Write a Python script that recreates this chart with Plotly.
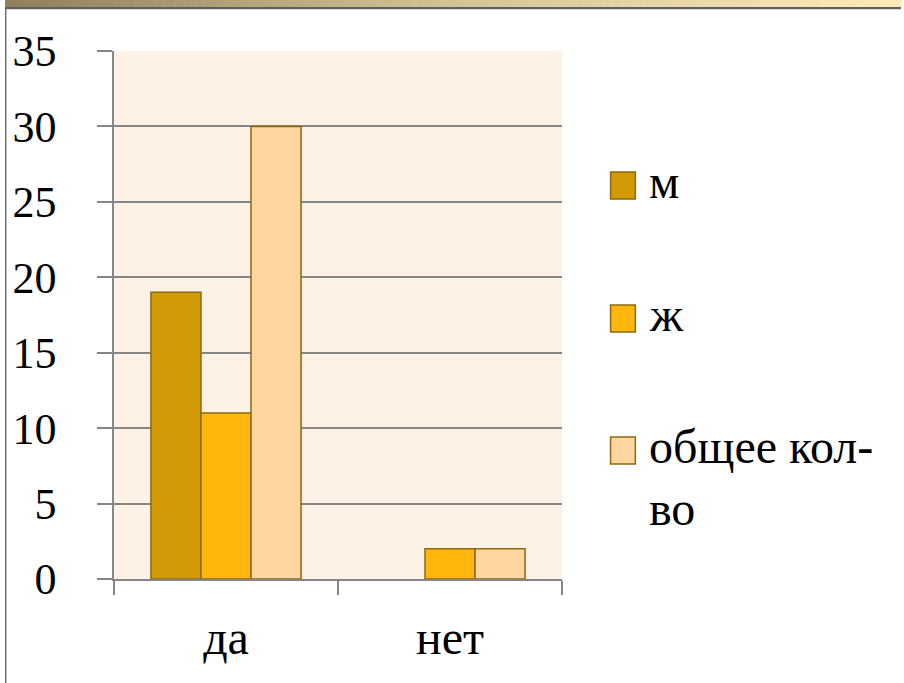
import plotly.graph_objects as go

categories = ["да", "нет"]
series_names = ["м", "ж", "общее кол-во"]
values_m = [19, 0]
values_zh = [11, 2]
values_total = [30, 2]
y_ticks = [0, 5, 10, 15, 20, 25, 30, 35]

colors = ["#D19A06", "#FFB60D", "#FFD5A0"]
edge = "#8B6A10"
FONT = "'Liberation Serif', 'DejaVu Serif', serif"

W, H = 904, 683
L, R, T, B = 110, 342, 51, 104
PW, PH = W - L - R, H - T - B

def px(x):
    return (x - L) / PW

def py(y):
    return (H - B - y) / PH

fig = go.Figure()
for name, vals, col in zip(series_names, [values_m, values_zh, values_total], colors):
    fig.add_trace(go.Bar(
        x=categories, y=vals, name=name,
        marker=dict(color=col, line=dict(color=edge, width=[1.5 if v else 0 for v in vals])),
        showlegend=False,
    ))

shapes = []
# top gradient strip
stops = [(0.0, (143, 127, 92)), (0.5, (212, 196, 148)), (1.0, (255, 233, 185))]
N = 90
for i in range(N):
    t = (i + 0.5) / N
    for (a, ca), (b, cb) in zip(stops[:-1], stops[1:]):
        if a <= t <= b:
            f = (t - a) / (b - a)
            c = tuple(int(round(ca[k] + (cb[k] - ca[k]) * f)) for k in range(3))
            break
    shapes.append(dict(type="rect", xref="paper", yref="paper",
                       x0=px(W * i / N), x1=px(W * (i + 1) / N + 0.5),
                       y0=py(7), y1=py(0), line=dict(width=0),
                       fillcolor="rgb(%d,%d,%d)" % c, layer="above"))
shapes.append(dict(type="rect", xref="paper", yref="paper", x0=px(0), x1=px(W),
                   y0=py(9), y1=py(7), line=dict(width=0), fillcolor="#5F5F5F"))
shapes.append(dict(type="rect", xref="paper", yref="paper", x0=px(0), x1=px(W),
                   y0=py(10), y1=py(9), line=dict(width=0), fillcolor="#DADDE3"))
shapes.append(dict(type="rect", xref="paper", yref="paper", x0=px(0), x1=px(1.5),
                   y0=py(H), y1=py(9), line=dict(width=0), fillcolor="#6F6F6F"))

# manual legend
legend_rows = [(172, 199), (305, 332), (437, 464)]
legend_texts = ["м", "ж", "общее кол-<br>во"]
annotations = []
for (y0, y1), col, txt in zip(legend_rows, colors, legend_texts):
    shapes.append(dict(type="rect", xref="paper", yref="paper",
                       x0=px(611), x1=px(636), y0=py(y1), y1=py(y0),
                       fillcolor=col, line=dict(color=edge, width=1.5)))
    annotations.append(dict(xref="paper", yref="paper", x=px(648), y=py(y0 - 19),
                            xanchor="left", yanchor="top", text=txt, showarrow=False,
                            align="left",
                            font=dict(family=FONT, size=48, color="#000000")))

fig.update_layout(
    width=W, height=H, autosize=False,
    margin=dict(l=L, r=R, t=T, b=B, pad=0),
    paper_bgcolor="#FFFFFF", plot_bgcolor="#FEF1E6",
    barmode="group", bargap=0.33, bargroupgap=0,
    font=dict(family=FONT, size=44, color="#000000"),
    shapes=shapes, annotations=annotations,
    showlegend=False,
    xaxis=dict(type="category", showline=True, linecolor="#868686", linewidth=1.5,
               ticks="outside", tickson="boundaries", ticklen=14, tickwidth=1.5,
               tickcolor="#868686", showgrid=False, ticklabelstandoff=16,
               tickfont=dict(family=FONT, size=48)),
    yaxis=dict(range=[0, 35], tickvals=y_ticks, ticktext=[str(v) for v in y_ticks],
               showline=True, linecolor="#868686", linewidth=1.5,
               showgrid=True, gridcolor="#868686", gridwidth=1.5,
               ticks="outside", ticklen=15, tickwidth=1.5, tickcolor="#868686",
               zeroline=False, ticklabelstandoff=32,
               tickfont=dict(family=FONT, size=44)),
)

fig.write_html("out.html", config={"displayModeBar": False},
               post_script="document.body.style.margin='0';")
